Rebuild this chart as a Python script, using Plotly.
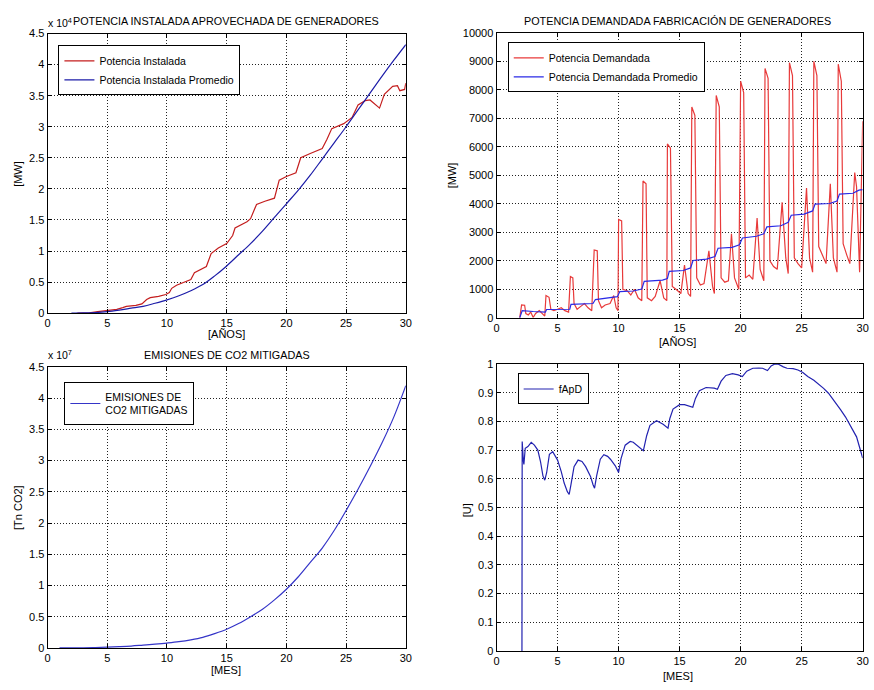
import plotly.graph_objects as go

# ---------------- DATA ----------------
# Top-left: Potencia instalada aprovechada [MW] vs años
inst_x = [2.5, 3.5, 4.2, 5.0, 5.8, 6.3, 6.6, 7.4, 7.9, 8.3, 8.6, 9.3, 9.9, 10.2, 10.4, 10.8, 11.5,
          12.0, 12.3, 12.8, 13.3, 13.7, 14.3, 15.0, 15.5, 15.7, 16.2, 16.7, 17.0, 17.5, 18.2, 19.0,
          19.4, 20.0, 20.8, 21.2, 22.0, 23.0, 23.4, 23.8, 24.8, 25.5, 26.0, 26.6, 27.0, 27.5, 27.8,
          28.2, 28.9, 29.3, 29.5, 29.9, 30.0]
inst_y = [0, 50, 250, 400, 600, 900, 1100, 1250, 1500, 2200, 2500, 2700, 3000, 3300, 4000, 4500, 5000,
          5400, 6500, 7000, 7500, 9600, 10500, 11200, 12500, 13700, 14200, 14700, 15200, 17500, 18000, 18500,
          21400, 22000, 22600, 25000, 25700, 26500, 28000, 29700, 30500, 31500, 33500, 34200, 34300, 33500, 33000,
          35200, 36500, 36600, 35800, 36000, 37000]
inst_prom_x = list(range(2, 31))
inst_prom_y = [0, 30, 100, 250, 500, 800, 1100, 1600, 2150, 2800, 3600, 4600, 6000, 7600, 9400,
               11200, 13200, 15400, 17600, 19800, 22200, 24800, 27400, 30000, 32700, 35400, 38100, 40700, 43200]

# Top-right: Potencia demandada [MW]
dem_x = [1.9, 2.05, 2.3, 2.4, 2.6, 2.8, 3.0, 3.2, 3.5, 3.8, 3.95,
         4.05, 4.3, 4.45, 4.7, 5.0, 5.3, 5.6, 5.9,
         6.05, 6.25, 6.35, 6.6, 6.9, 7.2, 7.5, 7.8,
         8.0, 8.25, 8.35, 8.6, 8.9, 9.3, 9.6, 9.8, 9.95,
         10.0, 10.25, 10.35, 10.7, 11.0, 11.3, 11.6, 11.9,
         12.0, 12.25, 12.35, 12.7, 13.0, 13.4, 13.7, 13.95,
         14.0, 14.25, 14.4, 14.7, 15.1, 15.4, 15.7, 15.9,
         16.0, 16.25, 16.4, 16.7, 17.0, 17.4, 17.7, 17.85,
         18.0, 18.25, 18.4, 18.7, 19.0, 19.25, 19.5, 19.85,
         20.0, 20.25, 20.4, 20.7, 21.0, 21.35, 21.6, 21.9,
         22.0, 22.25, 22.4, 22.7, 23.0, 23.4, 23.7, 23.9,
         24.0, 24.25, 24.4, 24.7, 25.0, 25.4, 25.65, 25.9,
         26.0, 26.25, 26.4, 26.7, 27.0, 27.35, 27.6, 27.9,
         28.0, 28.25, 28.4, 28.7, 28.95, 29.35, 29.5, 29.75, 30.0]
dem_y = [0, 450, 440, 150, 100, 200, 10, 150, 250, 100, 60,
         780, 720, 300, 250, 300, 350, 250, 200,
         1450, 1400, 500, 300, 400, 500, 350, 250,
         2380, 2350, 600, 350, 450, 500, 780, 350, 250,
         3450, 3400, 1000, 950, 800, 1000, 700, 600,
         4800, 4700, 700, 600, 750, 1300, 700, 600,
         6100, 5950, 1100, 1000, 850, 1850, 850, 750,
         7400, 7100, 1400, 1150, 1200, 2350, 1100, 850,
         7800, 7400, 1400, 1250, 1300, 2950, 1400, 1000,
         8300, 7900, 1400, 1500, 1350, 3500, 1700, 1300,
         8750, 8400, 2000, 1800, 1700, 4050, 2100, 1550,
         8950, 8500, 2100, 1900, 1750, 4550, 2100, 1600,
         9000, 8500, 2500, 2200, 1900, 4700, 2100, 1600,
         8900, 8300, 2600, 2200, 1900, 5100, 4600, 1600, 6900]
dem_prom_x = [1.9, 2.1, 3.0, 4.0, 4.1, 6.0, 6.1, 7.9, 8.1, 9.0, 9.9, 10.1, 11.2, 11.9, 12.1, 13.6, 14.0,
              14.15, 15.3, 15.9, 16.1, 17.2, 17.9, 18.15, 19.3, 19.9, 20.15, 21.3, 21.9, 22.15, 23.3,
              23.9, 24.15, 25.2, 25.9, 26.1, 27.3, 27.9, 28.1, 29.2, 29.7, 30.0]
dem_prom_y = [0, 250, 220, 200, 290, 300, 470, 500, 640, 680, 740, 920, 940, 1010, 1280, 1320, 1380,
              1630, 1660, 1750, 2010, 2060, 2150, 2440, 2470, 2560, 2800, 2860, 2950, 3190, 3230,
              3350, 3600, 3640, 3750, 3990, 4010, 4100, 4340, 4370, 4480, 4500]

# Bottom-left: Emisiones de CO2 mitigadas [Tn CO2]
co2_x = list(range(1, 31))
co2_y = [0, 10000, 30000, 70000, 120000, 200000, 300000, 450000, 600000, 780000,
         1000000, 1300000, 1700000, 2300000, 3000000, 3900000, 5000000, 6200000, 7700000, 9400000,
         11400000, 13700000, 16000000, 18800000, 22000000, 25400000, 29000000, 32800000, 37000000, 42000000]

# Bottom-right: fApD [U]
fapd_x = [2.08, 2.1, 2.2, 2.24, 2.35, 2.57, 2.84, 3.1, 3.38, 3.6, 3.8, 3.95, 4.1, 4.33, 4.6, 5.0, 5.3,
          5.54, 5.8, 5.95, 6.1, 6.35, 6.68, 7.0, 7.3, 7.7, 7.9, 8.03, 8.2, 8.5, 8.79, 9.1, 9.33, 9.73,
          10.0, 10.2, 10.54, 10.95, 11.2, 11.49, 11.8, 12.03, 12.3, 12.57, 13.11, 13.4, 13.65, 14.05,
          14.2, 14.46, 15.0, 15.4, 15.68, 16.08, 16.3, 16.62, 17.17, 17.5, 17.84, 18.1, 18.4, 18.79,
          19.33, 19.8, 20.14, 20.5, 21.0, 21.5, 21.8, 22.2, 22.5, 22.8, 23.1, 23.5, 23.8, 24.3, 24.7,
          25.1, 25.5, 26.0, 26.4, 26.8, 27.2, 27.7, 28.2, 28.6, 29.0, 29.5, 30.0]
fapd_y = [0, 0.73, 0.66, 0.65, 0.706, 0.712, 0.727, 0.717, 0.70, 0.66, 0.61, 0.595, 0.62, 0.685, 0.694,
          0.665, 0.625, 0.585, 0.555, 0.545, 0.58, 0.642, 0.665, 0.66, 0.642, 0.608, 0.58, 0.567, 0.61,
          0.668, 0.684, 0.678, 0.668, 0.645, 0.622, 0.67, 0.717, 0.73, 0.727, 0.717, 0.705, 0.698, 0.75,
          0.786, 0.802, 0.797, 0.79, 0.776, 0.81, 0.843, 0.858, 0.858, 0.855, 0.849, 0.88, 0.907, 0.918,
          0.918, 0.916, 0.912, 0.94, 0.96, 0.966, 0.962, 0.956, 0.975, 0.985, 0.986, 0.985, 0.977, 0.993,
          1.0, 0.999, 0.99, 0.985, 0.984, 0.979, 0.97, 0.956, 0.943, 0.93, 0.915, 0.898, 0.87, 0.84,
          0.815, 0.785, 0.746, 0.672]

x_ticks = [0, 5, 10, 15, 20, 25, 30]
tl_yticks = [0, 5000, 10000, 15000, 20000, 25000, 30000, 35000, 40000, 45000]
tr_yticks = [0, 1000, 2000, 3000, 4000, 5000, 6000, 7000, 8000, 9000, 10000]
bl_yticks = [0, 5e6, 1e7, 1.5e7, 2e7, 2.5e7, 3e7, 3.5e7, 4e7, 4.5e7]
br_yticks = [0, 0.1, 0.2, 0.3, 0.4, 0.5, 0.6, 0.7, 0.8, 0.9, 1.0]
scaled_labels = ["0", "0.5", "1", "1.5", "2", "2.5", "3", "3.5", "4", "4.5"]
br_labels = ["0", "0.1", "0.2", "0.3", "0.4", "0.5", "0.6", "0.7", "0.8", "0.9", "1"]

# ---------------- FIGURE ----------------
W, H = 874, 690
FONT = "Liberation Sans, Arial, Helvetica, sans-serif"

def px(v):
    return v / W

def py(v):
    return 1 - v / H

fig = go.Figure()

RED_D = "#c41e1e"
BLUE_D = "#1c1ca8"
RED_L = "#e83a3a"
BLUE_L = "#2a2ae6"

fig.add_trace(go.Scatter(x=inst_x, y=inst_y, mode="lines", name="Potencia Instalada",
                         line=dict(color=RED_D, width=1.2), xaxis="x", yaxis="y", legend="legend"))
fig.add_trace(go.Scatter(x=inst_prom_x, y=inst_prom_y, mode="lines", name="Potencia Instalada Promedio",
                         line=dict(color=BLUE_D, width=1.2, shape="spline"), xaxis="x", yaxis="y", legend="legend"))
fig.add_trace(go.Scatter(x=dem_x, y=dem_y, mode="lines", name="Potencia Demandada",
                         line=dict(color=RED_L, width=1.2), xaxis="x2", yaxis="y2", legend="legend2"))
fig.add_trace(go.Scatter(x=dem_prom_x, y=dem_prom_y, mode="lines", name="Potencia Demandada Promedio",
                         line=dict(color=BLUE_L, width=1.2), xaxis="x2", yaxis="y2", legend="legend2"))
fig.add_trace(go.Scatter(x=co2_x, y=co2_y, mode="lines", name="EMISIONES DE<br>CO2 MITIGADAS",
                         line=dict(color="#3535c8", width=1.2, shape="spline"), xaxis="x3", yaxis="y3", legend="legend3"))
fig.add_trace(go.Scatter(x=fapd_x, y=fapd_y, mode="lines", name="fApD",
                         line=dict(color="#2222b0", width=1.2), xaxis="x4", yaxis="y4", legend="legend4"))

axis_common = dict(showline=True, linecolor="black", linewidth=1, mirror="ticks",
                   ticks="inside", ticklen=4, tickcolor="black",
                   showgrid=True, gridcolor="#222222", griddash="1px,2px", gridwidth=1,
                   zeroline=False, tickfont=dict(family=FONT, size=11, color="black"))

left_dom = [px(45), px(407)]
right_dom = [px(498.7), px(868.6)]

fig.update_layout(
    width=W, height=H,
    margin=dict(l=0, r=0, t=0, b=0),
    paper_bgcolor="white", plot_bgcolor="white",
    font=dict(family=FONT, size=11, color="black"),
    xaxis=dict(domain=left_dom, range=[0, 30], tickvals=x_ticks, anchor="y", **axis_common),
    yaxis=dict(domain=[py(312.6), py(28)], range=[0, 45000], tickvals=tl_yticks,
               ticktext=scaled_labels, anchor="x", **axis_common),
    xaxis2=dict(domain=right_dom, range=[0, 30], tickvals=x_ticks, anchor="y2", **axis_common),
    yaxis2=dict(domain=[py(317.3), py(27.3)], range=[0, 10000], tickvals=tr_yticks,
                tickformat="d", anchor="x2", **axis_common),
    xaxis3=dict(domain=left_dom, range=[0, 30], tickvals=x_ticks, anchor="y3", **axis_common),
    yaxis3=dict(domain=[py(653.3), py(367.3)], range=[0, 4.5e7], tickvals=bl_yticks,
                ticktext=scaled_labels, anchor="x3", **axis_common),
    xaxis4=dict(domain=right_dom, range=[0, 30], tickvals=x_ticks, anchor="y4", **axis_common),
    yaxis4=dict(domain=[py(656.3), py(364.3)], range=[0, 1], tickvals=br_yticks,
                ticktext=br_labels, anchor="x4", **axis_common),
)

leg_common = dict(xanchor="left", yanchor="top", bgcolor="white", bordercolor="black",
                  borderwidth=1, font=dict(family=FONT, size=10.5, color="black"),
                  itemwidth=30, tracegroupgap=0)
fig.update_layout(
    legend=dict(x=px(56), y=py(40), **leg_common),
    legend2=dict(x=px(510), y=py(37), **leg_common),
    legend3=dict(x=px(62), y=py(383), **leg_common),
    legend4=dict(x=px(520), y=py(374), **leg_common),
)

def ann(text, x, y, size=11, xanchor="center", yanchor="middle", angle=0):
    fig.add_annotation(text=text, x=px(x), y=py(y), xref="paper", yref="paper",
                       showarrow=False, xanchor=xanchor, yanchor=yanchor, textangle=angle,
                       font=dict(family=FONT, size=size, color="black"))

# Titles
ann("POTENCIA INSTALADA APROVECHADA DE GENERADORES", 225, 15, size=10.8)
ann("x 10<sup>4</sup>", 72, 17, size=10.5, xanchor="right")
ann("POTENCIA DEMANDADA FABRICACIÓN DE GENERADORES", 682, 15, size=10.8)
ann("EMISIONES DE CO2 MITIGADAS", 226, 355, size=10.8)
ann("x 10<sup>7</sup>", 72, 355, size=10.5, xanchor="right")

# Axis titles
ann("[MW]", 15, 171, angle=-90)
ann("[AÑOS]", 226, 334)
ann("[MW]", 454, 172, angle=-90)
ann("[AÑOS]", 682, 342)
ann("[Tn CO2]", 15, 510, angle=-90)
ann("[MES]", 225, 676)
ann("[U]", 469, 513, angle=-90)
ann("[MES]", 682, 682)

fig.write_html("out.html", config={"displayModeBar": False},
               post_script="document.body.style.margin='0px';document.body.style.overflow='hidden';")
